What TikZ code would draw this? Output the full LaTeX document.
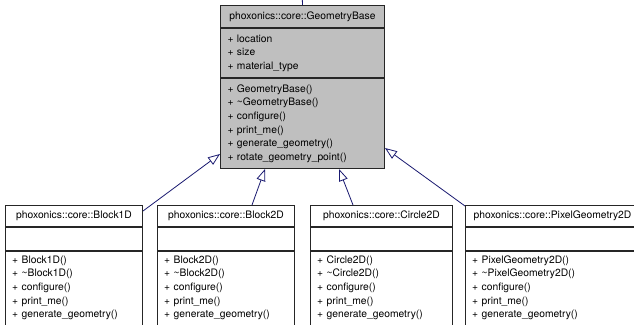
\documentclass[tikz,border=0pt]{standalone}
\usepackage{fontspec}
\setmainfont{TeX Gyre Heros}
\usetikzlibrary{arrows.meta,calc}
\definecolor{edgeblue}{RGB}{25,25,112}
\definecolor{basegray}{RGB}{191,191,191}
\begin{document}
\begin{tikzpicture}[x=1pt, y=1pt, font=\fontsize{10.3}{13.6}\selectfont,
  head/.style={draw=black!85, line width=1pt, anchor=north west, inner sep=0pt, align=center},
  part/.style={draw=black!85, line width=1pt, anchor=north west, inner xsep=7pt, inner ysep=0pt, align=left},
  list/.style={anchor=north west, inner xsep=7pt, inner ysep=4.5pt, align=left},
  inherit/.style={draw=edgeblue, line width=0.8pt, -{Triangle[open, length=12pt, width=9pt]}}]
\useasboundingbox (0,0) rectangle (634,-324);
\fill[white] (0,0) rectangle (634,-324);
\clip (0,0) rectangle (634,-324);
% base class
\node[head, fill=basegray, minimum width=164pt, minimum height=22pt] (base) at (220,-5) {phoxonics::core::GeometryBase};
\node[part, fill=basegray, text width=150pt, minimum height=49pt] (base-attr) at (base.south west) {+ location\\+ size\\+ material\_type};
\node[part, fill=basegray, text width=150pt, minimum height=90pt] (base-ops) at (base-attr.south west) {+ GeometryBase()\\+ \textasciitilde GeometryBase()\\+ configure()\\+ print\_me()\\+ generate\_geometry()\\+ rotate\_geometry\_point()};
\coordinate (up) at (302,10);
% Block1D
\node[head, minimum width=137pt, minimum height=21pt] (b1d) at (5,-205) {phoxonics::core::Block1D};
\node[part, text width=123pt, minimum height=23pt] (b1d-attr) at (b1d.south west) {};
\node[part, text width=123pt, minimum height=100pt] (b1d-ops) at (b1d-attr.south west) {};
\node[list, text width=123pt] (b1d-list) at (b1d-ops.north west) {+ Block1D()\\+ \textasciitilde Block1D()\\+ configure()\\+ print\_me()\\+ generate\_geometry()};
% Block2D
\node[head, minimum width=137pt, minimum height=21pt] (b2d) at (157,-205) {phoxonics::core::Block2D};
\node[part, text width=123pt, minimum height=23pt] (b2d-attr) at (b2d.south west) {};
\node[part, text width=123pt, minimum height=100pt] (b2d-ops) at (b2d-attr.south west) {};
\node[list, text width=123pt] (b2d-list) at (b2d-ops.north west) {+ Block2D()\\+ \textasciitilde Block2D()\\+ configure()\\+ print\_me()\\+ generate\_geometry()};
% Circle2D
\node[head, minimum width=142pt, minimum height=21pt] (c2d) at (310,-205) {phoxonics::core::Circle2D};
\node[part, text width=128pt, minimum height=23pt] (c2d-attr) at (c2d.south west) {};
\node[part, text width=128pt, minimum height=100pt] (c2d-ops) at (c2d-attr.south west) {};
\node[list, text width=128pt] (c2d-list) at (c2d-ops.north west) {+ Circle2D()\\+ \textasciitilde Circle2D()\\+ configure()\\+ print\_me()\\+ generate\_geometry()};
% PixelGeometry2D
\node[head, minimum width=174pt, minimum height=21pt] (pix) at (465,-205) {phoxonics::core::PixelGeometry2D};
\node[part, text width=160pt, minimum height=23pt] (pix-attr) at (pix.south west) {};
\node[part, text width=160pt, minimum height=100pt] (pix-ops) at (pix-attr.south west) {};
\node[list, text width=160pt] (pix-list) at (pix-ops.north west) {+ PixelGeometry2D()\\+ \textasciitilde PixelGeometry2D()\\+ configure()\\+ print\_me()\\+ generate\_geometry()};
% inheritance
\draw[draw=edgeblue, line width=0.8pt] (up) -- (base.north);
\draw[inherit] ($(b1d.north east)+(0,-6)$) -- ($(base-ops.south west)+(0,15)$);
\draw[inherit] ($(b2d.north west)+(95,0)$) -- ($(base-ops.south west)+(45,0)$);
\draw[inherit] ($(c2d.north west)+(43,0)$) -- ($(base-ops.south west)+(119,0)$);
\draw[inherit] ($(pix.north west)+(0,-1)$) -- ($(base-ops.south east)+(0,21)$);
\end{tikzpicture}
\end{document}
